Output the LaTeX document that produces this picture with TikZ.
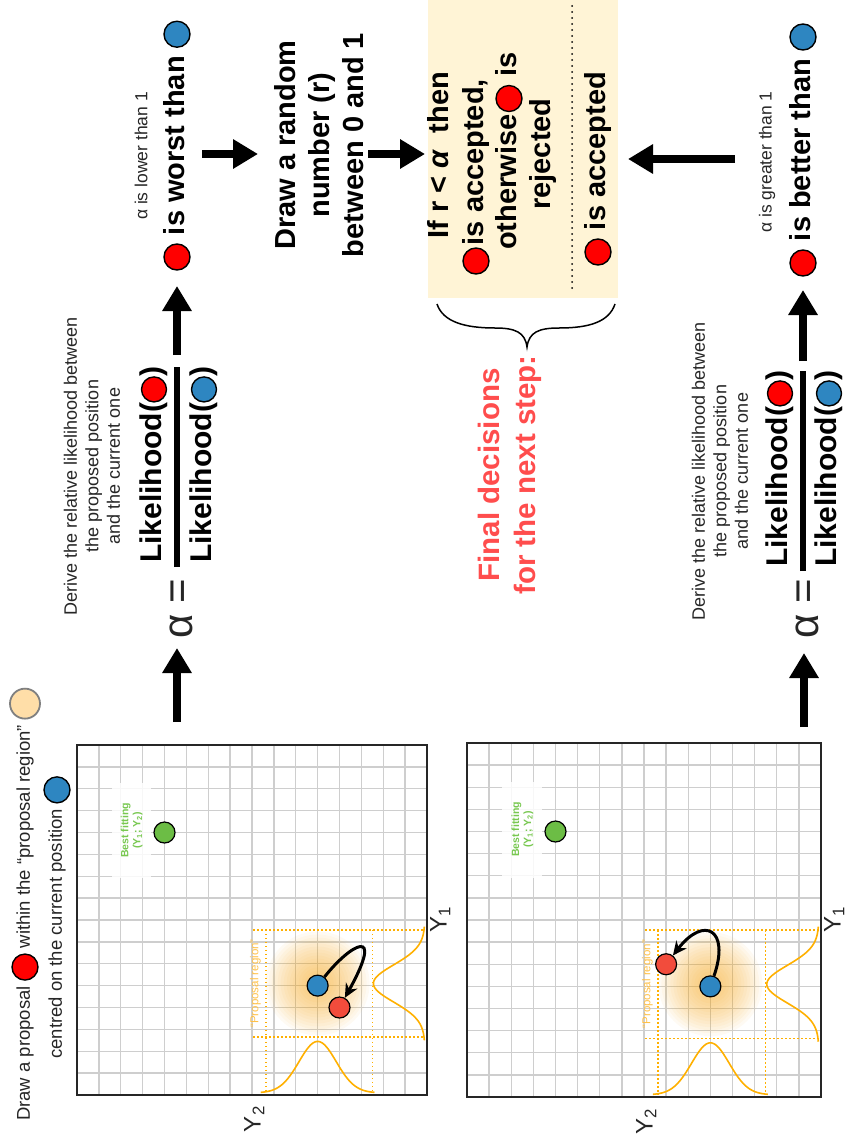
\documentclass[tikz,border=0pt]{standalone}
\usepackage{fontspec}
\setmainfont{Liberation Sans}
\usetikzlibrary{arrows.meta}
\definecolor{tred}{RGB}{255,0,0}
\definecolor{pred}{RGB}{242,76,60}
\definecolor{tblue}{RGB}{46,134,193}
\definecolor{tgreen}{RGB}{108,189,69}
\definecolor{lgreen}{RGB}{120,200,80}
\definecolor{orng}{RGB}{255,176,0}
\definecolor{glowc}{RGB}{245,170,40}
\definecolor{lorng}{RGB}{255,192,70}
\definecolor{creambox}{RGB}{255,244,214}
\definecolor{creamdot}{RGB}{255,222,168}
\definecolor{fred}{RGB}{255,77,77}
\definecolor{gridc}{RGB}{206,206,206}
\newcommand{\tsp}{\ \mbox{}}
\tikzset{
  bt/.style={font=\fontsize{29}{35}\selectfont\bfseries, rotate=90, inner sep=0pt, text height=21pt, text depth=6pt},
  ft/.style={font=\fontsize{30}{36}\selectfont\bfseries, rotate=90, inner sep=0pt, text height=21.6pt, text depth=6.2pt},
  bml/.style={font=\fontsize{29}{34}\selectfont\bfseries, rotate=90, align=center, inner sep=0pt},
  fdec/.style={font=\fontsize{29.5}{36}\selectfont\bfseries, rotate=90, align=center, inner sep=0pt, text=fred},
  lt/.style={font=\fontsize{18}{21.5}\selectfont, rotate=90, align=center, inner sep=0pt, text=black!85},
  st/.style={font=\fontsize{17.5}{21}\selectfont, rotate=90, inner sep=0pt, text=black!85},
  captxt/.style={font=\fontsize{18.5}{22}\selectfont, rotate=90, inner sep=0pt, text height=13.3pt, text depth=3.7pt, text=black!85},
  alph/.style={font=\fontsize{42}{42}\selectfont, rotate=90, inner sep=0pt, text=black!85},
  dotbase/.style={circle, draw=black, line width=1.4pt, inner sep=0pt, minimum size=26pt, rotate=90},
  rdot/.style={dotbase, fill=tred},
  bdot/.style={dotbase, fill=tblue},
  pdot/.style={circle, draw=black, line width=1.2pt, inner sep=0pt, minimum size=21pt},
  bigarrow/.style={line width=8pt, -{Triangle[length=25pt,width=28pt]}},
  curvarrow/.style={line width=3pt, -{Stealth[length=14pt,width=13pt]}},
  gridline/.style={draw=gridc, line width=1.3pt},
  plotframe/.style={draw=black!85, line width=1.5pt},
  odots/.style={draw=orng, line width=1.6pt, dash pattern=on 1.6pt off 2.4pt},
  gcurve/.style={draw=orng, line width=1.6pt},
  bestlbl/.style={font=\fontsize{10.5}{12}\selectfont\bfseries, text=lgreen, rotate=90, align=center, inner sep=0pt},
  proplbl/.style={font=\fontsize{11.5}{13}\selectfont, text=lorng, rotate=90, inner sep=0pt},
  axlbl/.style={font=\fontsize{24}{24}\selectfont, text=black!85, rotate=90, inner sep=0pt},
}
\newcommand{\mcplotbase}[1]{%
  \foreach \i in {1,...,15} {\draw[gridline] (\i,0) -- (\i,16); \draw[gridline] (0,\i) -- (16,\i);}
  \draw[plotframe] (0,0) rectangle (16,16);
  \fill[white, opacity=0.85] (1.6,1.75) rectangle (3.4,6.1);
  \node[bestlbl] (best#1) at (2.5,3.9) {Best fitting\\(Y\textsubscript{1}; Y\textsubscript{2})};
  \node[pdot, fill=tgreen] (g#1) at (4,4) {};
  \foreach \r in {52,49,...,4} {\fill[glowc, opacity=0.055] (11,10.9) circle (\r pt);}
  \draw[odots] (8.05,8.45) -- (15.9,8.45);
  \draw[odots] (8.05,13.35) -- (15.9,13.35);
  \draw[odots] (8.63,8.45) -- (8.63,15.9);
  \draw[odots] (13.5,8.45) -- (13.5,15.9);
  \draw[gcurve] plot[domain=-2.6:2.6, samples=60, smooth] ({11+\x},{15.9-2.35*exp(-0.5*(\x/0.85)*(\x/0.85))});
  \draw[gcurve] plot[domain=-2.6:2.6, samples=60, smooth] ({15.9-2.35*exp(-0.5*(\x/0.85)*(\x/0.85))},{10.9+\x});
  \node[proplbl] (prop#1) at (8.15,10.9) {“Proposal region”};
  \node[axlbl] (ya#1) at (8.1,17.1) {Y\textsubscript{2}};
  \node[axlbl] (yb#1) at (16.6,8) {Y\textsubscript{1}};
  \node[pdot, fill=tblue] (pb#1) at (11,11) {};
}
\begin{document}
\begin{tikzpicture}[x=1pt,y=-1pt]
\useasboundingbox (0,0) rectangle (851,1140);

% ---------- top row (first chain) ----------
\node[lt] (der1) at (92,466) {Derive the relative likelihood between\\the proposed position\\and the current one};
\node[alph] (al1) at (181,626) {α};
\node[alph] (eq1) at (181,591) {=};
\node[ft, anchor=west] (n1a) at (154,563) {Likelihood(};
\node[rdot, minimum size=25pt, anchor=west] (n1b) at (n1a.east) {};
\node[ft, anchor=west] (n1c) at (n1b.east) {)};
\node[ft, anchor=west] (d1a) at (204,563) {Likelihood(};
\node[bdot, minimum size=25pt, anchor=west] (d1b) at (d1a.east) {};
\node[ft, anchor=west] (d1c) at (d1b.east) {)};
\draw[line width=6.5pt] (177,567) -- (177,367);
\coordinate (u2s) at (177,355); \coordinate (u2e) at (177,286);
\draw[bigarrow] (u2s) -- (u2e);
\node[rdot] (w1) at (177,257) {};
\node[bt, anchor=west] (w2) at (w1.east) {\ is worst than\tsp};
\node[bdot, anchor=west] (w3) at (w2.east) {};
\node[st] (low) at (141,156) {α is lower than 1};
\coordinate (h1s) at (202,154); \coordinate (h1e) at (258,154);
\draw[bigarrow] (h1s) -- (h1e);
\node[bml] (rnd) at (319,145) {Draw a random\\number (r)\\between 0 and 1};
\coordinate (h2s) at (368,154); \coordinate (h2e) at (425,154);
\draw[bigarrow] (h2s) -- (h2e);

% ---------- decision box ----------
\fill[creambox] (428,0) rectangle (618,298);
\draw[line width=2pt, dash pattern=on 0pt off 6pt, line cap=round] (572,6) -- (572,290);
\node[bt] (k1) at (441,155) {If r < \textit{α}\ \ then};
\node[rdot] (k2a) at (476,261) {};
\node[bt, anchor=west] (k2b) at (k2a.east) {\kern2pt is accepted,};
\node[bt, anchor=west] (k3a) at (509,250) {otherwise\kern2pt\mbox{}};
\node[rdot, anchor=west] (k3b) at (k3a.east) {};
\node[bt, anchor=west] (k3c) at (k3b.east) {\ is};
\node[bt] (k4) at (543,154) {rejected};
\node[rdot] (k5a) at (598,252) {};
\node[bt, anchor=west] (k5b) at (k5a.east) {\ is accepted};
\draw[line width=1.5pt] (437,304) .. controls (443,322) and (465,328) .. (495,328)
  .. controls (515,328) and (525,332) .. (527,347)
  .. controls (529,332) and (539,328) .. (559,328)
  .. controls (589,328) and (609,322) .. (615,304);
\node[fdec] (fd) at (510,475) {Final decisions\\for the next step:};
\coordinate (h3s) at (735,159); \coordinate (h3e) at (628,159);
\draw[bigarrow] (h3s) -- (h3e);

% ---------- bottom row (second chain) ----------
\node[st] (great) at (767,162) {α is greater than 1};
\node[rdot] (v1) at (803,263) {};
\node[bt, anchor=west] (v2) at (v1.east) {\ is better than\tsp};
\node[bdot, anchor=west] (v3) at (v2.east) {};
\coordinate (u4s) at (803,361); \coordinate (u4e) at (803,290);
\draw[bigarrow] (u4s) -- (u4e);
\node[ft, anchor=west] (n2a) at (780,567) {Likelihood(};
\node[rdot, minimum size=25pt, anchor=west] (n2b) at (n2a.east) {};
\node[ft, anchor=west] (n2c) at (n2b.east) {)};
\node[ft, anchor=west] (d2a) at (829,567) {Likelihood(};
\node[bdot, minimum size=25pt, anchor=west] (d2b) at (d2a.east) {};
\node[ft, anchor=west] (d2c) at (d2b.east) {)};
\draw[line width=6.5pt] (803,571) -- (803,371);
\node[alph] (al2) at (807,626) {α};
\node[alph] (eq2) at (807,591) {=};
\node[lt] (der2) at (720,471) {Derive the relative likelihood between\\the proposed position\\and the current one};

% ---------- caption ----------
\node[captxt, anchor=west] (c1) at (25,1121) {Draw a proposal\tsp};
\node[rdot, anchor=west] (c2) at (c1.east) {};
\node[captxt, anchor=west] (c3) at (c2.east) {\ within the “proposal region”\tsp};
\node[dotbase, fill=creamdot, draw=gray, line width=1.8pt, minimum size=30pt, anchor=west] (c4) at (c3.east) {};
\node[captxt, anchor=west] (c5) at (57,1059) {centred on the current position\tsp};
\node[bdot, anchor=west] (c6) at (c5.east) {};

% ---------- plots ----------
\coordinate (u1s) at (177,722); \coordinate (u1e) at (177,648);
\draw[bigarrow] (u1s) -- (u1e);
\coordinate (u3s) at (804,727); \coordinate (u3e) at (804,653);
\draw[bigarrow] (u3s) -- (u3e);

\begin{scope}[shift={(77,745)}, x=21.875pt, y=-21.875pt]
  \mcplotbase{1}
  \node[pdot, fill=pred] (pr1) at (12,12) {};
  \draw[curvarrow] (pb1) .. controls (12.5,9.1) and (14.1,8.2) .. (pr1);
\end{scope}

\begin{scope}[shift={(467,743)}, x=22.125pt, y=-22.125pt]
  \mcplotbase{2}
  \node[pdot, fill=pred] (pr2) at (9,10) {};
  \draw[curvarrow] (pb2) .. controls (11.9,8.4) and (10.7,7.8) .. (pr2);
\end{scope}
\end{tikzpicture}
\end{document}
